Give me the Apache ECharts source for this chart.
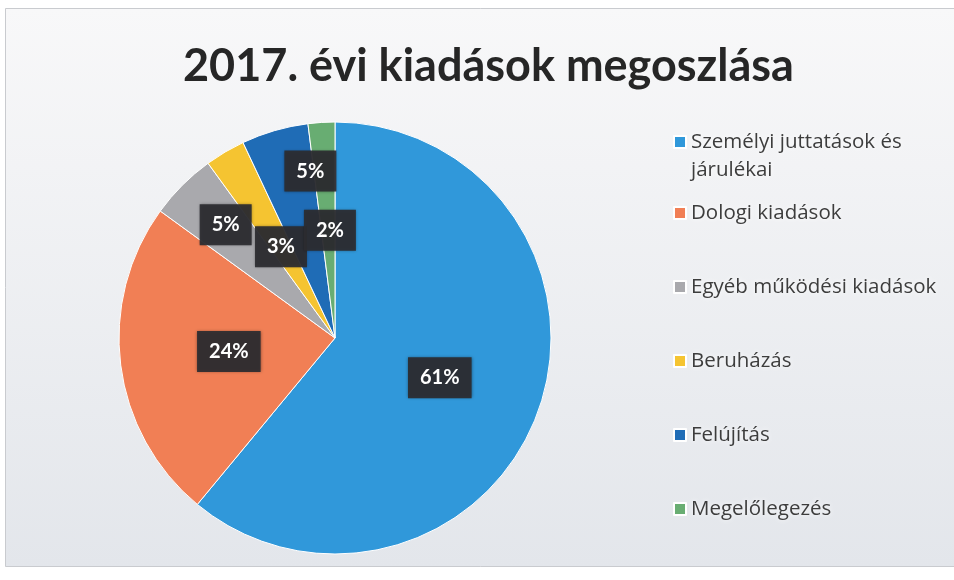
<!DOCTYPE html>
<html>
<head>
<meta charset="utf-8">
<script src="https://cdn.jsdelivr.net/npm/echarts@6/dist/echarts.min.js"></script>
<style>
  html, body { margin: 0; padding: 0; background: #ffffff; }
  #chart { width: 954px; height: 580px; }
</style>
</head>
<body>
<div id="chart"></div>
<script>
// Expenditure breakdown for 2017 (share of total, %)
const categories = [
  'Személyi juttatások és járulékai',
  'Dologi kiadások',
  'Egyéb működési kiadások',
  'Beruházás',
  'Felújítás',
  'Megelőlegezés'
];
const shares = [61, 24, 5, 3, 5, 2];
const sliceColors = ['#3098DA', '#F17F55', '#A9A9AD', '#F5C431', '#1F6CB6', '#68AD72'];
// value label placement: scale of the default inside distance from the centre,
// and a small turn (degrees, clockwise) away from the slice's mid-angle
const labelRadius = [0.505, 0.482, 0.709, 0.478, 0.76, 0.486];
const labelTurn = [1, 0, 1, 0, 7.8, 0.9];

const PIE_CENTER = [335, 338];
const PIE_RADIUS = 216;
const FONT = 'Lato, "Open Sans", "Noto Sans", sans-serif';
const LEGEND_FONT = '"Open Sans", Lato, "Noto Sans", sans-serif';

const chart = echarts.init(document.getElementById('chart'), null, { renderer: 'canvas' });

const legendText = {
  color: '#3d3d3d',
  fontFamily: LEGEND_FONT,
  fontSize: 20.5,
  lineHeight: 28,
  textShadowColor: 'rgba(255,255,255,0.9)',
  textShadowBlur: 4
};

chart.setOption({
  backgroundColor: '#ffffff',
  animation: false,
  graphic: [{
    type: 'rect',
    z: -10,
    shape: { x: 5.5, y: 8.5, width: 960, height: 558 },
    style: {
      fill: new echarts.graphic.LinearGradient(0, 0, 0, 1, [
        { offset: 0, color: '#f8f8f9' },
        { offset: 1, color: '#e3e6eb' }
      ]),
      stroke: '#c9cbcf',
      lineWidth: 1
    }
  }],
  title: {
    text: '2017. évi kiadások megoszlása',
    left: 183,
    top: 39,
    padding: [5, 0, 5, 0],
    textStyle: {
      fontFamily: FONT,
      fontSize: 45,
      fontWeight: 'bold',
      color: '#262626'
    }
  },
  legend: [{
    orient: 'vertical',
    left: 673,
    top: 100,
    padding: 0,
    itemWidth: 12,
    itemHeight: 12,
    icon: 'rect',
    data: [categories[0]],
    // a leading empty line keeps the marker level with the first text line;
    // the last word wraps onto its own line
    formatter: name => '\n' + name.replace(/ (\S+)$/, '\n$1'),
    textStyle: legendText
  }, {
    orient: 'vertical',
    left: 673,
    top: 199,
    padding: 0,
    itemGap: 46,
    itemWidth: 12,
    itemHeight: 12,
    icon: 'rect',
    data: categories.slice(1),
    textStyle: legendText
  }],
  series: [{
    type: 'pie',
    center: PIE_CENTER,
    radius: PIE_RADIUS,
    startAngle: 90,
    clockwise: true,
    avoidLabelOverlap: false,
    color: sliceColors,
    itemStyle: { borderColor: '#ffffff', borderWidth: 1 },
    label: {
      show: true,
      position: 'inside',
      formatter: '{c}%',
      fontFamily: FONT,
      fontSize: 20,
      fontWeight: 'bold',
      color: '#ffffff',
      backgroundColor: 'rgba(44,44,48,0.93)',
      padding: [11, 12, 10, 12],
      shadowColor: 'rgba(0,0,0,0.45)',
      shadowBlur: 3
    },
    labelLine: { show: false },
    // move each inside label along / around its own radius
    labelLayout: function (params) {
      const r = params.labelRect;
      const dx = r.x + r.width / 2 - PIE_CENTER[0];
      const dy = r.y + r.height / 2 - PIE_CENTER[1];
      const i = params.dataIndex;
      const dist = Math.sqrt(dx * dx + dy * dy) * labelRadius[i] / 0.5;
      const ang = Math.atan2(dx, -dy) + labelTurn[i] * Math.PI / 180;
      return {
        x: PIE_CENTER[0] + dist * Math.sin(ang),
        y: PIE_CENTER[1] - dist * Math.cos(ang)
      };
    },
    data: categories.map((name, i) => ({ name: name, value: shares[i] }))
  }]
});
</script>
</body>
</html>
